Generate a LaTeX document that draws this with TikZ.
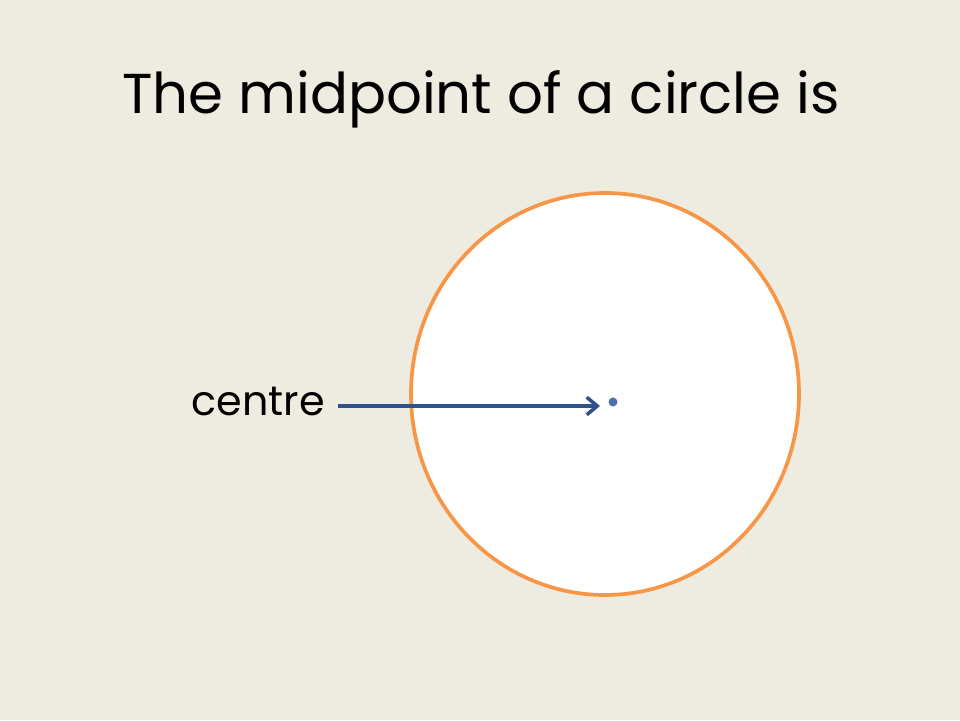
\documentclass[tikz,border=0pt]{standalone}
\usepackage{fontspec}
\setmainfont{Poppins}
\usetikzlibrary{arrows.meta}
\definecolor{slidebg}{HTML}{EEECE1}
\definecolor{rimorange}{HTML}{F79646}
\definecolor{pointerblue}{HTML}{2F528F}
\definecolor{dotblue}{HTML}{4F6FAF}

\begin{document}
\begin{tikzpicture}[x=0.02cm, y=0.02cm]
  % --- slide background ---
  \fill[slidebg] (0,0) rectangle (960,720);
  \useasboundingbox (0,0) rectangle (960,720);
  % --- title ---
  \node (title) at (481,621) {\fontsize{32}{38}\selectfont The midpoint of a circle is};
  % --- the circle ---
  \draw[rimorange, fill=white, line width=2.1pt] (605,326) ellipse [x radius=194, y radius=201];
  \fill[dotblue] (613,318) circle (4.5);
  \coordinate (mid) at (600,314);
  % --- label and pointer ---
  \node[anchor=east, inner sep=0pt] (centre) at (325,318) {\fontsize{23.5}{28}\selectfont centre};
  \draw[pointerblue, line width=2pt, shorten <=13*0.02cm, -{Straight Barb[length=6pt, width=10pt]}] (centre.east |- mid) -- (mid);
\end{tikzpicture}
\end{document}
